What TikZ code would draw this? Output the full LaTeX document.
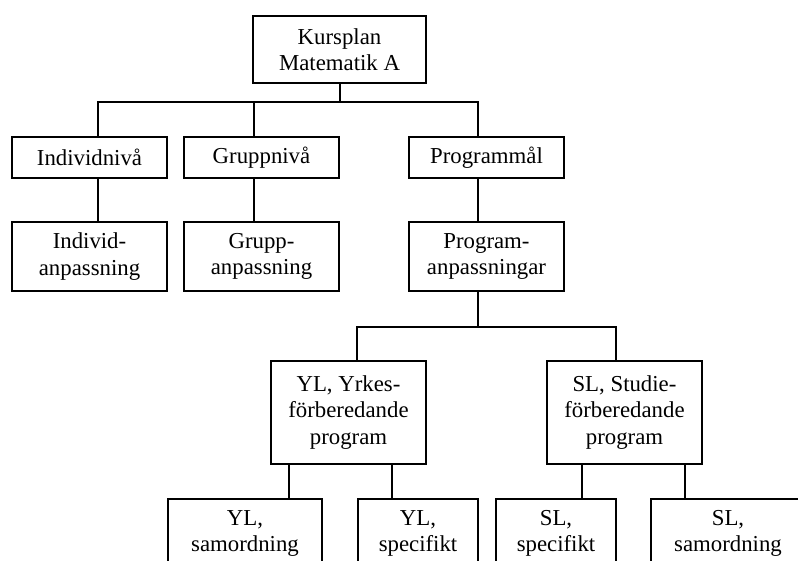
\documentclass[tikz,border=0pt]{standalone}
\usepackage{fontspec}
\setmainfont{Liberation Serif}

\begin{document}
\begin{tikzpicture}[
  x=1pt, y=-1pt,
  box/.style={rectangle, draw, line width=1.2pt, inner sep=0pt, align=center,
    minimum width=155pt, font=\fontsize{22.8}{26.6}\selectfont},
  link/.style={line width=1.2pt}
]
\useasboundingbox (0,0) rectangle (798,560);
\clip (0,0) rectangle (798,560);

% Course plan
\node[box, minimum width=173pt, minimum height=67pt] (kursplan) at (339.5,49.5) {Kursplan\\Matematik A};

% Levels
\node[box, minimum height=41pt] (indniva) at (89.5,157.5) {Individnivå};
\node[box, minimum height=41pt] (gruppniva) at (261.5,157.5) {Gruppnivå};
\node[box, minimum height=41pt] (progmal) at (486.5,157.5) {Programmål};

% Adaptations
\node[box, minimum height=69pt] (indanp) at (89.5,256.5) {Individ-\\anpassning};
\node[box, minimum height=69pt] (gruppanp) at (261.5,256.5) {Grupp-\\anpassning};
\node[box, minimum height=69pt] (proganp) at (486.5,256.5) {Program-\\anpassningar};

% Programme types
\node[box, minimum height=103pt] (yl) at (348.5,412.5) {YL, Yrkes-\\förberedande\\program};
\node[box, minimum height=103pt] (sl) at (624.5,412.5) {SL, Studie-\\förberedande\\program};

% Bottom row
\node[box, minimum width=154pt, minimum height=69pt] (ylsam) at (245,533.5) {YL,\\samordning};
\node[box, minimum width=120pt, minimum height=69pt] (ylspec) at (418,533.5) {YL,\\specifikt};
\node[box, minimum width=120pt, minimum height=69pt] (slspec) at (556,533.5) {SL,\\specifikt};
\node[box, minimum width=154pt, minimum height=69pt] (slsam) at (728,533.5) {SL,\\samordning};

% Bus coordinates
\coordinate (top) at (340,102);
\coordinate (s1) at (98,102);
\coordinate (s2) at (254,102);
\coordinate (s3) at (478,102);
\coordinate (p1) at (357,327);
\coordinate (p2) at (616,327);
\coordinate (y1) at (289,480);
\coordinate (y2) at (392,480);
\coordinate (z1) at (582,480);
\coordinate (z2) at (685,480);

% Connections
\draw[link] (kursplan.south -| top) -- (top);
\draw[link] (s1 |- indniva.north) -- (s1) -- (s3) -- (s3 |- progmal.north);
\draw[link] (s2) -- (s2 |- gruppniva.north);
\draw[link] (s1 |- indniva.south) -- (s1 |- indanp.north);
\draw[link] (s2 |- gruppniva.south) -- (s2 |- gruppanp.north);
\draw[link] (s3 |- progmal.south) -- (s3 |- proganp.north);
\draw[link] (proganp.south -| s3) -- (s3 |- p1);
\draw[link] (p1 |- yl.north) -- (p1) -- (p2) -- (p2 |- sl.north);
\draw[link] (y1 |- yl.south) -- (y1 |- ylsam.north);
\draw[link] (y2 |- yl.south) -- (y2 |- ylspec.north);
\draw[link] (z1 |- sl.south) -- (z1 |- slspec.north);
\draw[link] (z2 |- sl.south) -- (z2 |- slsam.north);

\end{tikzpicture}
\end{document}
